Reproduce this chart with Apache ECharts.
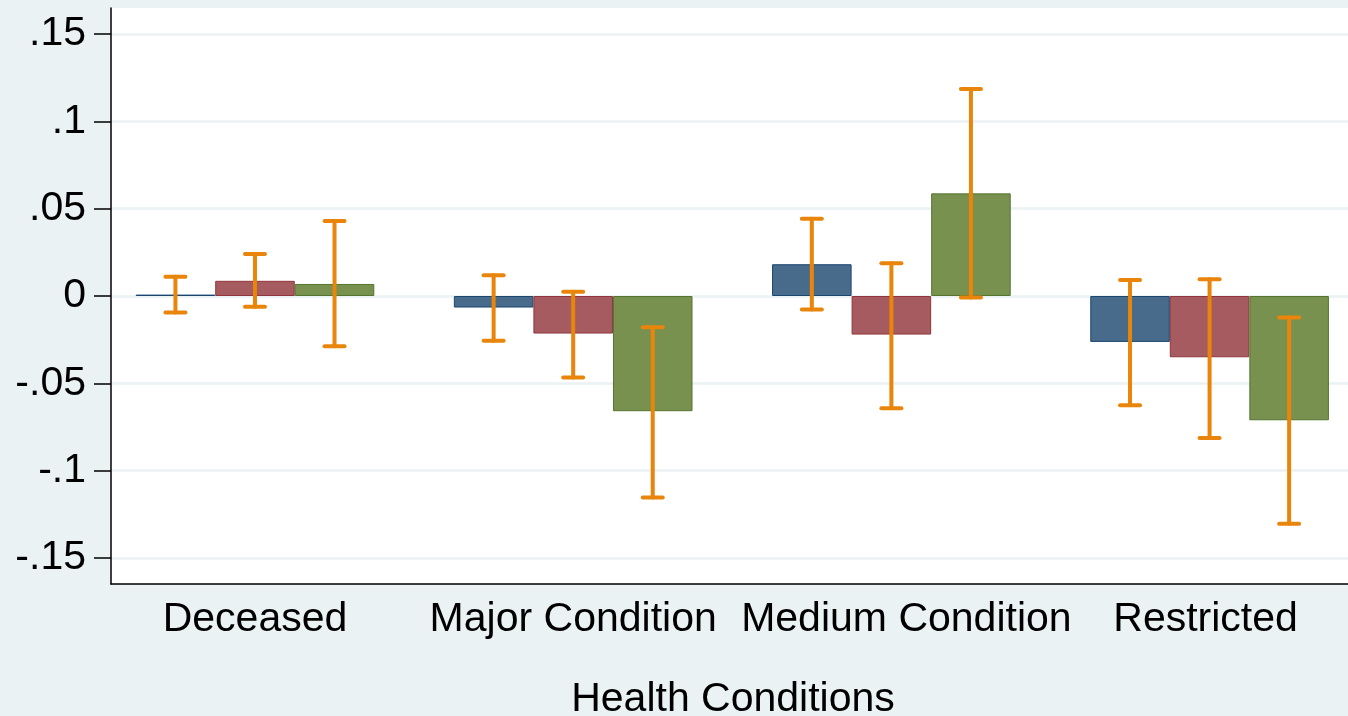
<!DOCTYPE html>
<html>
<head>
<meta charset="utf-8">
<script src="https://cdn.jsdelivr.net/npm/echarts@6/dist/echarts.min.js"></script>
<style>
html,body{margin:0;padding:0;background:#eaf2f3;}
#chart{width:1348px;height:716px;}
</style>
</head>
<body>
<div id="chart"></div>
<script>
const categories = ['Deceased', 'Major Condition', 'Medium Condition', 'Restricted'];
const seriesNames = ['Group 1', 'Group 2', 'Group 3'];
const blueVals  = [0.0008, -0.0066, 0.0182, -0.0263];
const redVals   = [0.0087, -0.0215, -0.0221, -0.0351];
const greenVals = [0.0069, -0.0660, 0.0588, -0.0712];
const blueLo  = [-0.0095, -0.0257, -0.0078, -0.0626];
const blueHi  = [0.0110, 0.0119, 0.0442, 0.0091];
const redLo   = [-0.0062, -0.0467, -0.0643, -0.0814];
const redHi   = [0.0240, 0.0024, 0.0188, 0.0096];
const greenLo = [-0.0288, -0.1155, -0.0009, -0.1305];
const greenHi = [0.0430, -0.0179, 0.1186, -0.0123];
const yTickValues = [-0.15, -0.1, -0.05, 0, 0.05, 0.1, 0.15];
const yTickLabels = ['-.15', '-.1', '-.05', '0', '.05', '.1', '.15'];

const FONT = "'Liberation Sans', Arial, sans-serif";
const fills = ['#486a8b', '#a55b5f', '#78914f'];
const borders = ['#1a476f', '#90353b', '#55752f'];
const vals = [blueVals, redVals, greenVals];
const los = [blueLo, redLo, greenLo];
const his = [blueHi, redHi, greenHi];
const BAR_FRAC = 0.25;
// small horizontal nudges of category labels (as placed in the original)
const labelRich = ['c0', 'c1', 'c2', 'c3'];

const barSeries = vals.map((v, s) => ({
  type: 'bar',
  name: seriesNames[s],
  data: categories.map((c, i) => [i + 1, v[i]]),
  barWidth: (BAR_FRAC * 100) + '%',
  barGap: '0%',
  itemStyle: { color: fills[s], borderColor: borders[s], borderWidth: 1 },
  emphasis: { disabled: true },
  z: 2
}));

const errData = [];
los.forEach((lo, s) => {
  categories.forEach((c, i) => { errData.push([i + 1, lo[i], his[s][i], s]); });
});

const errSeries = {
  type: 'custom',
  name: 'CI',
  data: errData,
  encode: { x: 0, y: [1, 2] },
  z: 5,
  renderItem: function (params, api) {
    const g = api.value(0), lo = api.value(1), hi = api.value(2), s = api.value(3);
    const bw = api.size([BAR_FRAC, 0])[0];
    const x = api.coord([g, 0])[0] + (s - 1) * bw;
    const yl = api.coord([g, lo])[1];
    const yh = api.coord([g, hi])[1];
    const cap = 10;
    const st = { stroke: '#e8850a', lineWidth: 4, lineCap: 'round' };
    return {
      type: 'group',
      children: [
        { type: 'line', shape: { x1: x, y1: yl, x2: x, y2: yh }, style: st },
        { type: 'line', shape: { x1: x - cap, y1: yh, x2: x + cap, y2: yh }, style: st },
        { type: 'line', shape: { x1: x - cap, y1: yl, x2: x + cap, y2: yl }, style: st }
      ]
    };
  }
};

const labStyle = { fontSize: 41, color: '#000', fontFamily: FONT };
const chart = echarts.init(document.getElementById('chart'), null, { renderer: 'canvas' });
chart.setOption({
  backgroundColor: '#eaf2f3',
  animation: false,
  textStyle: { fontFamily: FONT },
  grid: { left: 111, right: -7, top: 8, bottom: 132, show: true, backgroundColor: '#ffffff', borderWidth: 0, containLabel: false, outerBoundsMode: 'none' },
  xAxis: {
    type: 'value',
    min: 0.5475,
    max: 4.457,
    name: 'Health Conditions',
    nameLocation: 'middle',
    nameGap: 95,
    nameTextStyle: { fontSize: 41, color: '#000', fontFamily: FONT },
    axisLine: { show: true, onZero: false, lineStyle: { color: '#000', width: 1.5 } },
    axisTick: { show: false },
    splitLine: { show: false },
    axisLabel: {
      customValues: categories.map((c, i) => i + 1),
      formatter: function (v) {
        const i = Math.round(v) - 1;
        return categories[i] ? '{' + labelRich[i] + '|' + categories[i] + '}' : '';
      },
      rich: {
        c0: Object.assign({}, labStyle),
        c1: Object.assign({}, labStyle),
        c2: Object.assign({ padding: [0, 0, 0, 30] }, labStyle),
        c3: Object.assign({ padding: [0, 8, 0, 0] }, labStyle)
      },
      fontSize: 41, color: '#000', margin: 15, fontFamily: FONT, showMinLabel: true, showMaxLabel: true
    }
  },
  yAxis: {
    type: 'value',
    min: -0.165,
    max: 0.165,
    axisLine: { show: true, onZero: false, lineStyle: { color: '#000', width: 1.5 } },
    axisTick: { show: true, length: 17, customValues: yTickValues, lineStyle: { color: '#000', width: 1.5 } },
    axisLabel: {
      customValues: yTickValues,
      formatter: function (v) {
        const idx = yTickValues.findIndex(t => Math.abs(t - v) < 1e-9);
        return idx >= 0 ? yTickLabels[idx] : '';
      },
      padding: [6, 0, 0, 0],
      fontSize: 41, color: '#000', margin: 25, fontFamily: FONT
    },
    splitLine: { show: true, lineStyle: { color: '#eaf2f3', width: 2.5 } }
  },
  series: barSeries.concat([errSeries])
});
</script>
</body>
</html>
